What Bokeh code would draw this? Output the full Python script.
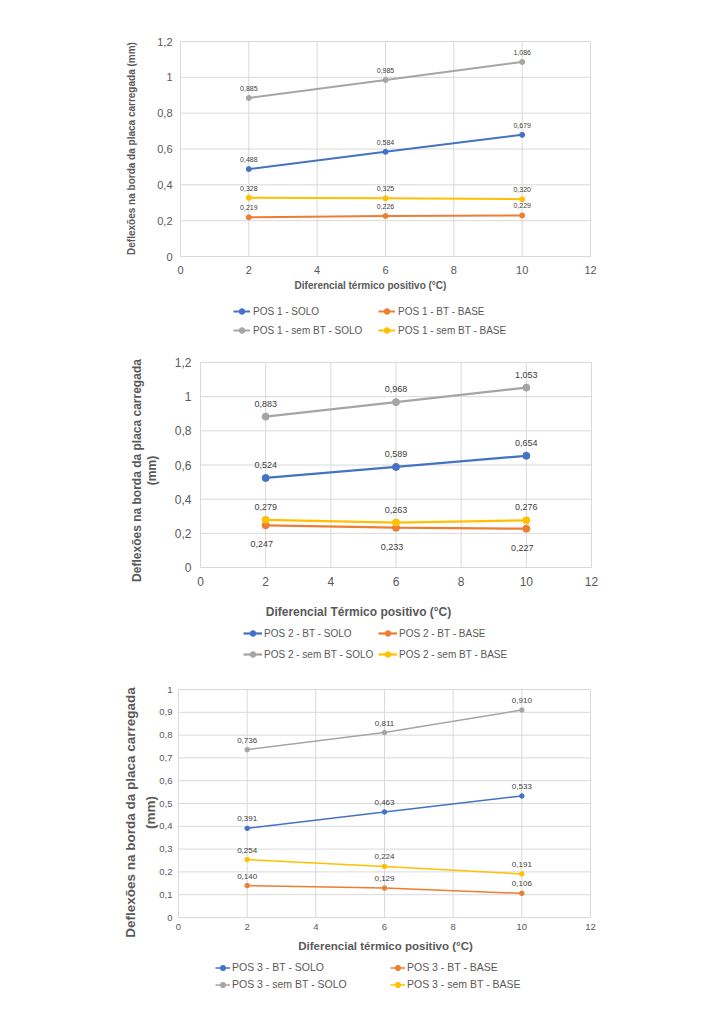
import math
from bokeh.plotting import figure
from bokeh.models import (Range1d, FixedTicker, Legend, LegendItem, Label,
                          CustomJSTickFormatter)
from bokeh.layouts import column
from bokeh.embed import file_html
from bokeh.resources import INLINE
from bokeh.core.properties import value

# ---------------- data ----------------
x_vals = [2, 6, 10]
x_ticks = [0, 2, 4, 6, 8, 10, 12]

pos1_names = ["POS 1 - SOLO", "POS 1 - BT - BASE", "POS 1 - sem BT - SOLO", "POS 1 - sem BT - BASE"]
pos1_bt_solo = [0.488, 0.584, 0.679]
pos1_bt_base = [0.219, 0.226, 0.229]
pos1_sem_solo = [0.885, 0.985, 1.086]
pos1_sem_base = [0.328, 0.325, 0.320]
pos1_y_ticks = [0, 0.2, 0.4, 0.6, 0.8, 1.0, 1.2]

pos2_names = ["POS 2 - BT - SOLO", "POS 2 - BT - BASE", "POS 2 - sem BT - SOLO", "POS 2 - sem BT - BASE"]
pos2_bt_solo = [0.524, 0.589, 0.654]
pos2_bt_base = [0.247, 0.233, 0.227]
pos2_sem_solo = [0.883, 0.968, 1.053]
pos2_sem_base = [0.279, 0.263, 0.276]
pos2_y_ticks = [0, 0.2, 0.4, 0.6, 0.8, 1.0, 1.2]

pos3_names = ["POS 3 - BT - SOLO", "POS 3 - BT - BASE", "POS 3 - sem BT - SOLO", "POS 3 - sem BT - BASE"]
pos3_bt_solo = [0.391, 0.463, 0.533]
pos3_bt_base = [0.140, 0.129, 0.106]
pos3_sem_solo = [0.736, 0.811, 0.910]
pos3_sem_base = [0.254, 0.224, 0.191]
pos3_y_ticks = [0, 0.1, 0.2, 0.3, 0.4, 0.5, 0.6, 0.7, 0.8, 0.9, 1.0]

y_title_1 = "Deflexões na borda da placa carregada (mm)"
y_title_2 = "Deflexões na borda da placa carregada\n(mm)"
x_title_1 = "Diferencial térmico positivo (°C)"
x_title_2 = "Diferencial Térmico positivo (°C)"

colors = ["#4472C4", "#ED7D31", "#A5A5A5", "#FFC000"]

FONT = "Liberation Sans"
GRID = "#D9D9D9"
AXIS_TXT = "#595959"
LBL_TXT = "#404040"
W = 723


def fmt(v):
    return f"{v:.3f}".replace(".", ",")


def make_chart(series, names, y_ticks, y_title, x_title, c):
    ymax = y_ticks[-1]
    h = c["h"]
    top_px, plot_px = c["top"], c["ph"]
    bottom_px = h - top_px - plot_px
    y_hi = ymax + ymax * top_px / plot_px
    y_lo = -ymax * bottom_px / plot_px
    ppu = c["fw"] / 12.0
    x_lo = -c["bl"] / ppu
    x_hi = 12 + (W - c["bl"] - c["fw"]) / ppu
    p = figure(width=W, height=h, output_backend="svg", toolbar_location=None,
               x_range=Range1d(x_lo, x_hi), y_range=Range1d(y_lo, y_hi),
               min_border_left=0, min_border_right=0,
               min_border_top=0, min_border_bottom=0)
    p.frame_align = False
    p.outline_line_color = None
    p.grid.visible = False

    # gridlines of the plot area (from the tick arrays)
    p.segment(x0=x_ticks, y0=[0] * len(x_ticks), x1=x_ticks, y1=[ymax] * len(x_ticks),
              line_color=GRID, line_width=1)
    p.segment(x0=[0] * len(y_ticks), y0=y_ticks, x1=[12] * len(y_ticks), y1=y_ticks,
              line_color=GRID, line_width=1)

    p.xaxis.ticker = FixedTicker(ticks=x_ticks)
    p.xaxis.fixed_location = 0
    p.yaxis.ticker = FixedTicker(ticks=y_ticks)
    p.yaxis.fixed_location = 0
    p.yaxis.formatter = CustomJSTickFormatter(
        code="var s = tick.toFixed(1).replace('.', ','); return s.endsWith(',0') ? s.slice(0, -2) : s;")
    for ax in (p.xaxis[0], p.yaxis[0]):
        ax.axis_line_color = None
        ax.major_tick_line_color = None
        ax.minor_tick_line_color = None
        ax.major_tick_out = 0
        ax.major_tick_in = 0
        ax.minor_tick_out = 0
        ax.minor_tick_in = 0
        ax.major_label_text_font = FONT
        ax.major_label_text_color = AXIS_TXT
        ax.major_label_text_font_size = c["tick_fs"]
    p.xaxis.major_label_standoff = c["x_standoff"]
    p.yaxis.major_label_standoff = c["y_standoff"]

    rends = []
    for i, (ys, col) in enumerate(zip(series, colors)):
        lr = p.line(x_vals, ys, line_color=col, line_width=c["lw"])
        sr = p.scatter(x_vals, ys, size=c["ms"], fill_color=col, line_color=col)
        below = c.get("below_idx") == i
        p.text(x_vals, ys, text=[fmt(v) for v in ys],
               text_font=value(FONT), text_font_size=c["lbl_fs"], text_color=LBL_TXT,
               text_align="center", text_baseline="middle",
               x_offset=c.get("below_dx", 0) if below else 0,
               y_offset=c["below_dy"] if below else c["dy"])
        rends.append([lr, sr])

    # axis titles
    p.add_layout(Label(x=c["yt_x"], y=c["yt_y"], x_units="screen", y_units="screen",
                       text=y_title, angle=math.pi / 2, text_align="center",
                       text_baseline="middle", text_font=FONT, text_font_style="bold",
                       text_font_size=c["yt_fs"], text_color=AXIS_TXT,
                       text_line_height=c.get("yt_lh", 1.2)))
    p.add_layout(Label(x=c["xt_x"], y=c["xt_y"], x_units="screen", y_units="screen",
                       text=x_title, text_align="center", text_baseline="middle",
                       text_font=FONT, text_font_style="bold",
                       text_font_size=c["xt_fs"], text_color=AXIS_TXT))

    # legend: two columns
    for k, sx in ((0, c["leg_x1"]), (1, c["leg_x2"])):
        items = [LegendItem(label=names[k], renderers=rends[k]),
                 LegendItem(label=names[k + 2], renderers=rends[k + 2])]
        leg = Legend(items=items, location=(sx, c["leg_y"]), orientation="vertical",
                     margin=0, padding=0, spacing=c["leg_sp"],
                     label_height=c["leg_h"], glyph_height=c["leg_h"],
                     glyph_width=c["glyph_w"], label_standoff=c["leg_standoff"],
                     label_text_font=FONT, label_text_font_size=c["leg_fs"],
                     label_text_color=AXIS_TXT,
                     background_fill_alpha=0, border_line_alpha=0)
        p.add_layout(leg)
    return p


# layout numbers (pixels inside each figure; screen y measured up from the figure bottom)
cfg1 = dict(h=345, top=41, ph=215, fw=410, bl=180, tick_fs="11px",
            x_standoff=9, y_standoff=8, lw=2, ms=5, lbl_fs="7px", dy=-9.5,
            leg_x1=233, leg_x2=378, leg_y=8, leg_sp=5, leg_h=14, glyph_w=17,
            leg_standoff=3, leg_fs="10px",
            yt_x=131, yt_y=197, yt_fs="10px", xt_x=370, xt_y=60, xt_fs="10px")

cfg2 = dict(h=327, top=17, ph=205, fw=391, bl=200, tick_fs="12px",
            x_standoff=9, y_standoff=9, lw=2.25, ms=7, lbl_fs="9px", dy=-13,
            below_idx=1, below_dy=19, below_dx=-4,
            leg_x1=243, leg_x2=378, leg_y=11, leg_sp=7, leg_h=14, glyph_w=19,
            leg_standoff=2, leg_fs="10px",
            yt_x=144, yt_y=202, yt_fs="12px", yt_lh=1.1, xt_x=358, xt_y=61, xt_fs="12px")

cfg3 = dict(h=328, top=17, ph=228, fw=412, bl=178, tick_fs="9.5px",
            x_standoff=6, y_standoff=6, lw=1.5, ms=4.5, lbl_fs="8px", dy=-9.5,
            leg_x1=215, leg_x2=390, leg_y=9.5, leg_sp=4, leg_h=13, glyph_w=15,
            leg_standoff=2, leg_fs="10.5px",
            yt_x=140, yt_y=188, yt_fs="13.5px", yt_lh=1.38, xt_x=385, xt_y=55, xt_fs="11.5px")

p1 = make_chart([pos1_bt_solo, pos1_bt_base, pos1_sem_solo, pos1_sem_base], pos1_names,
                pos1_y_ticks, y_title_1, x_title_1, cfg1)
p2 = make_chart([pos2_bt_solo, pos2_bt_base, pos2_sem_solo, pos2_sem_base], pos2_names,
                pos2_y_ticks, y_title_2, x_title_2, cfg2)
p3 = make_chart([pos3_bt_solo, pos3_bt_base, pos3_sem_solo, pos3_sem_base], pos3_names,
                pos3_y_ticks, y_title_2, x_title_1, cfg3)

layout = column(p1, p2, p3, spacing=0)
open("out.html", "w").write(file_html(layout, INLINE))
